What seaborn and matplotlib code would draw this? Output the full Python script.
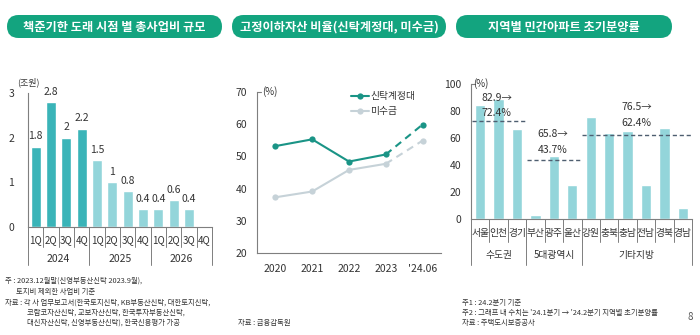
import matplotlib
matplotlib.use("Agg")
import matplotlib.pyplot as plt
import matplotlib.transforms as mtransforms
from matplotlib.patches import FancyBboxPatch
from matplotlib.lines import Line2D
import seaborn as sns
import pandas as pd
import numpy as np

sns.set_theme(style="white")
plt.rcParams['font.family'] = ['Noto Sans CJK KR', 'DejaVu Sans']

# ---------------- data ----------------
# panel 1
p1_title = "책준기한 도래 시점 별 총사업비 규모"
p1_years = ["2024", "2025", "2026"]
p1_quarters = ["1Q", "2Q", "3Q", "4Q"]
p1_values = [1.8, 2.8, 2.0, 2.2, 1.5, 1.0, 0.8, 0.4, 0.4, 0.6, 0.4, np.nan]
p1_yticks = [0, 1, 2, 3]

# panel 2
p2_title = "고정이하자산 비율(신탁계정대, 미수금)"
p2_labels = ["2020", "2021", "2022", "2023", "'24.06"]
p2_trust = [53.2, 55.3, 48.4, 50.6, 59.9]
p2_recv = [37.3, 39.1, 45.8, 47.7, 54.9]
p2_series = ["신탁계정대", "미수금"]
p2_yticks = [20, 30, 40, 50, 60, 70]

# panel 3
p3_title = "지역별 민간아파트 초기분양률"
p3_regions = ["서울", "인천", "경기", "부산", "광주", "울산", "강원", "충북", "충남", "전남", "경북", "경남"]
p3_values = [84.5, 89.0, 66.5, 3.0, 46.5, 25.0, 75.5, 64.0, 65.0, 25.0, 67.5, 8.0]
p3_groups = ["수도권", "5대광역시", "기타지방"]
p3_group_sizes = [3, 3, 6]
p3_group_avg = [72.4, 43.7, 62.4]
p3_group_prev = [82.9, 65.8, 76.5]
p3_yticks = [0, 20, 40, 60, 80, 100]

# ---------------- style ----------------
W, H = 700, 335
DARK = "#3AB4B8"
LIGHT = "#93D5DA"
GREEN = "#13A47F"
TXT = "#333333"
SPINE = "#7f7f7f"
LINE1 = "#1A9486"
LINE2 = "#C6D2D8"

fig = plt.figure(figsize=(7, 3.35), dpi=100)

def ax_px(l, t, r, b):
    return fig.add_axes([l / W, 1 - b / H, (r - l) / W, (b - t) / H])

def ftxt(x, y, s, **kw):
    fig.text(x / W, 1 - y / H, s, **kw)

def pill(l, t, r, b, text):
    hgt = (b - t) / 100
    p = FancyBboxPatch((l / 100, (H - b) / 100), (r - l) / 100, hgt,
                       boxstyle=f"round,pad=0,rounding_size={hgt / 2}",
                       transform=fig.dpi_scale_trans, facecolor=GREEN, edgecolor="none")
    fig.patches.append(p)
    ftxt((l + r) / 2, (t + b) / 2 + 0.5, text, ha="center", va="center",
         color="white", fontsize=8.8, fontweight="bold")

def style_axes(ax):
    for s in ["top", "right"]:
        ax.spines[s].set_visible(False)
    for s in ["left", "bottom"]:
        ax.spines[s].set_color(SPINE)
        ax.spines[s].set_linewidth(0.8)
    ax.tick_params(axis="y", length=3, width=0.8, color=SPINE, labelsize=7.5,
                   labelcolor=TXT, pad=6)
    ax.set_xlabel("")
    ax.set_ylabel("")

# ---------------- panel 1 ----------------
ax1 = ax_px(28, 93, 212, 227)
cats1 = [f"{y}-{q}" for y in p1_years for q in p1_quarters]
df1 = pd.DataFrame({"cat": cats1, "val": p1_values})
cols1 = [DARK if c.startswith("2024") else LIGHT for c in cats1]
sns.barplot(data=df1, x="cat", y="val", hue="cat", palette=cols1, order=cats1,
            hue_order=cats1, legend=False, width=0.66, saturation=1, ax=ax1, dodge=False)
ax1.set_ylim(0, 3)
ax1.set_xlim(-0.5, 11.5)
ax1.set_yticks(p1_yticks)
ax1.set_yticklabels([str(v) for v in p1_yticks])
style_axes(ax1)
ax1.tick_params(axis="y", pad=7)
ax1.set_xticks([])
for i, v in enumerate(p1_values):
    if not np.isnan(v):
        ax1.text(i, v + 0.12, f"{v:g}", ha="center", va="bottom", fontsize=7.5, color=TXT)
tr1 = mtransforms.blended_transform_factory(ax1.transData, ax1.transAxes)
for i in range(12):
    ax1.text(i, -0.097, p1_quarters[i % 4], transform=tr1, ha="center", va="center",
             fontsize=7, color=TXT, clip_on=False)
for k in range(13):
    ax1.plot([k - 0.5, k - 0.5], [0, -0.15], transform=tr1, color=SPINE, lw=0.7, clip_on=False)
for k in range(4):
    ax1.plot([4 * k - 0.5, 4 * k - 0.5], [0, -0.285], transform=tr1, color=SPINE, lw=0.7, clip_on=False)
for k, y in enumerate(p1_years):
    ax1.text(4 * k + 1.5, -0.238, y, transform=tr1, ha="center", va="center",
             fontsize=7.5, color=TXT, clip_on=False)
ftxt(17, 82, "(조원)", fontsize=6.5, color=TXT, va="center")

# ---------------- panel 2 ----------------
ax2 = ax_px(257, 92, 441, 253)
xs = list(range(len(p2_labels)))
sns.lineplot(x=xs[:4], y=p2_recv[:4], color=LINE2, lw=1.5, marker="o", markersize=4.5,
             markeredgewidth=0, ax=ax2)
sns.lineplot(x=xs[3:], y=p2_recv[3:], color=LINE2, lw=1.5, linestyle=(0, (3.5, 2.5)), ax=ax2)
sns.lineplot(x=xs[4:], y=p2_recv[4:], color=LINE2, marker="o", markersize=4.5,
             markeredgewidth=0, ax=ax2)
sns.lineplot(x=xs[:4], y=p2_trust[:4], color=LINE1, lw=1.5, marker="o", markersize=4.5,
             markeredgewidth=0, ax=ax2)
sns.lineplot(x=xs[3:], y=p2_trust[3:], color=LINE1, lw=1.5, linestyle=(0, (3.5, 2.5)), ax=ax2)
sns.lineplot(x=xs[4:], y=p2_trust[4:], color=LINE1, marker="o", markersize=4.5,
             markeredgewidth=0, ax=ax2)
ax2.set_xlim(-0.5, 4.5)
ax2.set_ylim(20, 70)
ax2.set_yticks(p2_yticks)
ax2.set_yticklabels([str(v) for v in p2_yticks])
style_axes(ax2)
ax2.tick_params(axis="y", length=0, pad=7)
ax2.set_xticks(xs)
ax2.set_xticklabels(p2_labels)
ax2.tick_params(axis="x", length=0, labelsize=7.5, labelcolor=TXT, pad=8)
ax2.set_xticks([k - 0.5 for k in range(6)], minor=True)
ax2.tick_params(axis="x", which="minor", direction="in", length=3, width=0.8, color=SPINE)
handles = [Line2D([], [], color=LINE1, lw=1.5, marker="o", markersize=4.5, markeredgewidth=0),
           Line2D([], [], color=LINE2, lw=1.5, marker="o", markersize=4.5, markeredgewidth=0)]
ax2.legend(handles, p2_series, loc="upper left", bbox_to_anchor=(0.49, 1.03), frameon=False,
           fontsize=7, handlelength=1.8, handletextpad=0.2, labelspacing=0.5, borderaxespad=0)
for t in ax2.get_legend().get_texts():
    t.set_color(TXT)
ftxt(262, 92, "(%)", fontsize=7, color=TXT, va="center")
ax2.plot([0, 0.02], [1, 1], transform=ax2.transAxes, color=SPINE, lw=0.8, clip_on=False)

# ---------------- panel 3 ----------------
ax3 = ax_px(471, 84, 692, 219)
df3 = pd.DataFrame({"region": p3_regions, "val": p3_values})
sns.barplot(data=df3, x="region", y="val", color=LIGHT, order=p3_regions, width=0.56,
            saturation=1, ax=ax3)
ax3.set_ylim(0, 100)
ax3.set_xlim(-0.5, 11.5)
ax3.set_yticks(p3_yticks)
ax3.set_yticklabels([str(v) for v in p3_yticks])
style_axes(ax3)
ax3.tick_params(axis="y", length=0, pad=7)
ax3.set_xticks([])
ax3.plot([-0.5, -0.3], [100, 100], color=SPINE, lw=0.8, clip_on=False)
tr3 = mtransforms.blended_transform_factory(ax3.transData, ax3.transAxes)
for i, r in enumerate(p3_regions):
    ax3.text(i, -0.104, r, transform=tr3, ha="center", va="center", fontsize=7,
             color=TXT, clip_on=False)
for k in range(13):
    ax3.plot([k - 0.5, k - 0.5], [0, -0.17], transform=tr3, color=SPINE, lw=0.7, clip_on=False)
start = 0
bounds = [0]
for n in p3_group_sizes:
    start += n
    bounds.append(start)
for b in bounds:
    ax3.plot([b - 0.5, b - 0.5], [0, -0.34], transform=tr3, color=SPINE, lw=0.7, clip_on=False)
for g, name in enumerate(p3_groups):
    cx = (bounds[g] + bounds[g + 1]) / 2 - 0.5
    ax3.text(cx, -0.267, name, transform=tr3, ha="center", va="center", fontsize=7,
             color=TXT, clip_on=False)
# dashed average lines + annotations
ann_pos = [(0.9, 89.6, 78.5), (3.95, 63, 51), (8.5, 83, 71)]
for g in range(3):
    x0, x1 = bounds[g] - 0.45, bounds[g + 1] - 0.55
    ax3.plot([x0, x1], [p3_group_avg[g], p3_group_avg[g]], color="#4E5E70", lw=1.0,
             linestyle=(0, (3, 2)))
    ax_, y1, y2 = ann_pos[g]
    ax3.text(ax_, y1, f"{p3_group_prev[g]:.1f}→", ha="center", va="center", fontsize=7.5, color=TXT)
    ax3.text(ax_, y2, f"{p3_group_avg[g]:.1f}%", ha="center", va="center", fontsize=7.5, color=TXT)
ftxt(473, 84, "(%)", fontsize=7, color=TXT, va="center")

# ---------------- titles ----------------
pill(7, 15, 222, 38, p1_title)
pill(232, 15, 446, 38, p2_title)
pill(456, 15, 672, 38, p3_title)

# ---------------- notes ----------------
nfs = 5.3
ftxt(5, 281, "주 : 2023.12월말(신영부동산신탁 2023.9월),", fontsize=nfs, color=TXT, va="center")
ftxt(16, 292, "토지비 제외한 사업비 기준", fontsize=nfs, color=TXT, va="center")
ftxt(5, 303, "자료 : 각 사 업무보고서(한국토지신탁, KB부동산신탁, 대한토지신탁,", fontsize=nfs, color=TXT, va="center")
ftxt(27, 313, "코람코자산신탁, 교보자산신탁, 한국투자부동산신탁,", fontsize=nfs, color=TXT, va="center")
ftxt(27, 323, "대신자산신탁, 신영부동산신탁), 한국신용평가 가공", fontsize=nfs, color=TXT, va="center")
ftxt(238, 323, "자료 : 금융감독원", fontsize=nfs, color=TXT, va="center")
ftxt(462, 303, "주1 : 24.2분기 기준", fontsize=nfs, color=TXT, va="center")
ftxt(462, 313, "주2 : 그래프 내 수치는 '24.1분기 → '24.2분기 지역별 초기분양률", fontsize=nfs, color=TXT, va="center")
ftxt(462, 323, "자료 : 주택도시보증공사", fontsize=nfs, color=TXT, va="center")
ftxt(690, 317, "8", fontsize=7, color="#555555", ha="center", va="center")

fig.savefig("out.png", dpi=100)
